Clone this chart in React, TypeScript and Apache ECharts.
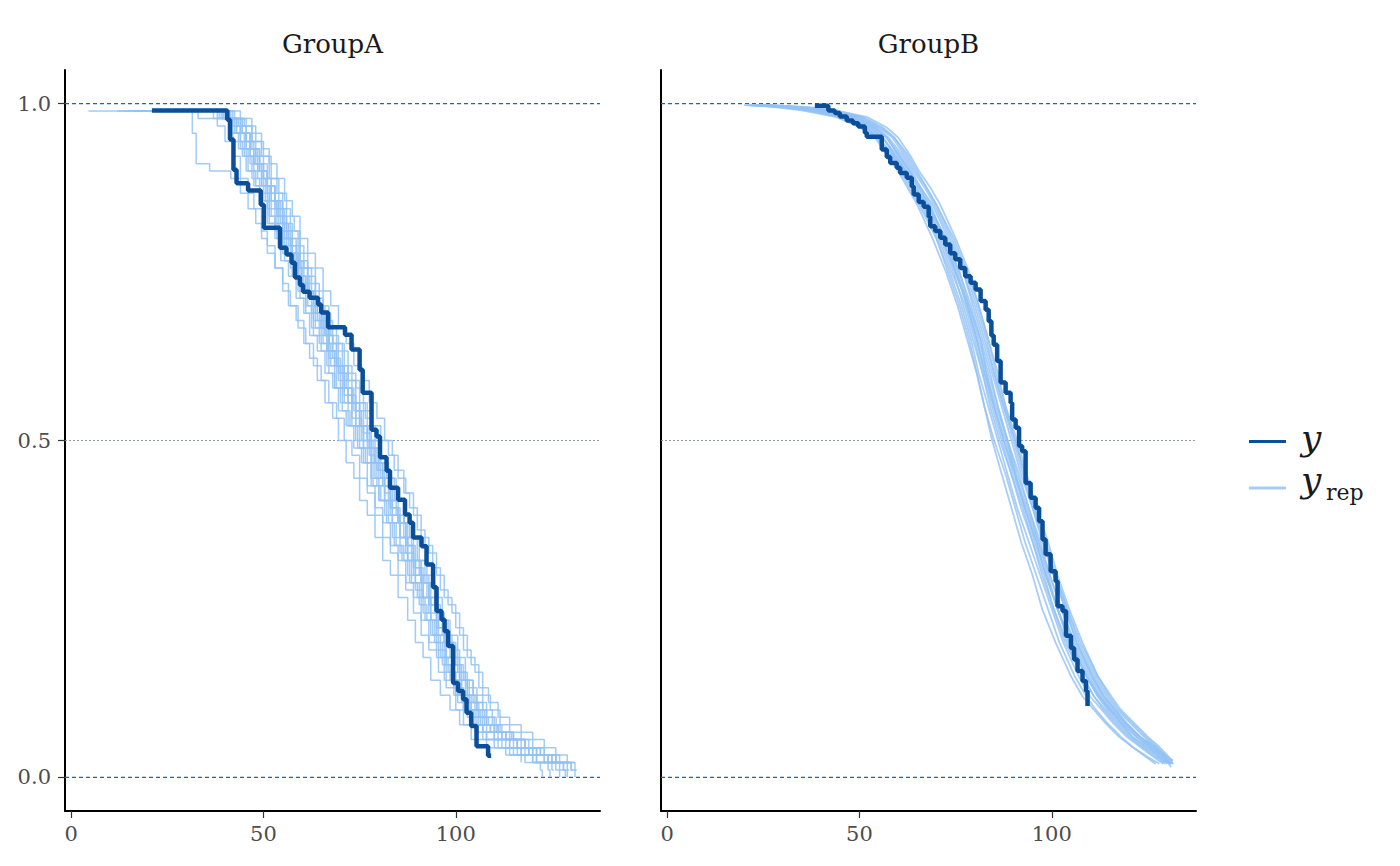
import React, { useEffect, useRef } from "react";
import * as echarts from "echarts";

const panelTitles = ["GroupA", "GroupB"];
const xTicks = [0, 50, 100];
const yTicks = [0, 0.5, 1];
const boundLines = [0, 1];
const midLines = [0.5];
const legendLabels = ["y", "y", "rep"];

// observed Kaplan-Meier curves (time, survival)
const obsGroupA = [
  [21, 0.99], [40.6, 0.976], [41.3, 0.947], [42.2, 0.902], [43, 0.882], [46, 0.871], [49.3, 0.85], [50.1, 0.816],
  [54.3, 0.786], [56, 0.776], [57.3, 0.764], [58.2, 0.742], [59.5, 0.731], [60.3, 0.721], [62, 0.712], [64.2, 0.702],
  [65, 0.69], [66.8, 0.668], [71.2, 0.657], [72.9, 0.635], [75, 0.605], [75.8, 0.571], [78.1, 0.516], [79.4, 0.506],
  [80.3, 0.475], [82, 0.455], [82.9, 0.43], [85, 0.412], [86.8, 0.39], [88, 0.378], [88.9, 0.356], [91.1, 0.343],
  [92.4, 0.316], [94.1, 0.282], [95, 0.247], [96.3, 0.234], [97.1, 0.217], [98, 0.195], [99.3, 0.14], [100.6, 0.128],
  [101.9, 0.116], [102.8, 0.096], [104, 0.076], [105.4, 0.046], [108.4, 0.032], [109.2, 0.032],
];

const obsGroupB = [
  [38.4, 0.997], [41.9, 0.99], [43.6, 0.986], [44.9, 0.981], [46.7, 0.975], [48.3, 0.971], [49.7, 0.966], [51.4, 0.957],
  [51.9, 0.951], [55.8, 0.932], [57.1, 0.921], [58, 0.912], [59.7, 0.905], [60.6, 0.897], [62.3, 0.89], [63.6, 0.877],
  [64.1, 0.865], [65.4, 0.854], [66.7, 0.847], [68, 0.832], [68.4, 0.818], [69.7, 0.811], [71, 0.801], [72.3, 0.791],
  [73.6, 0.778], [74.9, 0.769], [76.2, 0.756], [77.5, 0.744], [78.9, 0.734], [80.2, 0.724], [81.5, 0.707], [82.8, 0.694],
  [83.6, 0.677], [84.3, 0.656], [84.9, 0.642], [85.8, 0.618], [86.7, 0.586], [88, 0.571], [89.3, 0.556], [89.7, 0.531],
  [90.6, 0.519], [91.5, 0.492], [92.3, 0.484], [93.2, 0.437], [94.5, 0.415], [95.8, 0.4], [96.7, 0.38], [97.6, 0.353],
  [98.4, 0.331], [99.7, 0.306], [101, 0.291], [101.5, 0.254], [102.8, 0.247], [103.7, 0.21], [105, 0.192], [105.8, 0.175],
  [106.7, 0.158], [108, 0.143], [108.9, 0.128], [109.3, 0.106],
];

// replicated curves, GroupA
const repA1 = [[16,0.989],[39,0.978],[42.5,0.956],[45,0.922],[47.5,0.9],[49.5,0.878],[51,0.844],[53,0.822],[55,0.789],[57.5,0.767],[59,0.733],[61.5,0.711],[63,0.678],[65,0.656],[67,0.622],[69.5,0.589],[71,0.567],[73,0.533],[75.5,0.5],[77.5,0.478],[79,0.444],[81.5,0.422],[83,0.389],[85.5,0.356],[87,0.333],[89,0.3],[91,0.267],[93.5,0.233],[95,0.2],[97.5,0.167],[99,0.144],[101.5,0.111],[104,0.089],[107,0.067],[110,0.056],[114,0.044],[118,0.033],[123,0.022],[127,0.022]];
const repA2 = [[4.5,0.989],[33,0.978],[38,0.967],[40,0.944],[42,0.922],[44,0.889],[46,0.867],[47.5,0.844],[49.5,0.811],[51,0.789],[53,0.756],[55,0.733],[56.5,0.7],[58.5,0.678],[60.5,0.644],[62,0.622],[64,0.589],[66,0.556],[68,0.533],[69.5,0.5],[71.5,0.467],[73.5,0.444],[75,0.411],[77,0.389],[79,0.356],[81,0.322],[83,0.3],[85,0.267],[87.5,0.233],[89.5,0.2],[91.5,0.178],[93.5,0.144],[96,0.122],[98.5,0.1],[101,0.078],[104,0.056],[108,0.044],[113,0.033],[117,0.022]];
const repA3 = [[22,0.989],[42,0.978],[45,0.967],[47,0.944],[49.5,0.922],[51.5,0.889],[53.5,0.867],[55,0.844],[57,0.811],[59,0.789],[60.5,0.756],[62.5,0.733],[64.5,0.7],[66,0.678],[68,0.644],[70.5,0.611],[72,0.589],[74,0.556],[76.5,0.533],[78,0.5],[80,0.467],[82,0.444],[84,0.411],[86.5,0.378],[88,0.356],[90,0.322],[92,0.289],[94.5,0.256],[96,0.233],[98,0.2],[100,0.167],[102,0.144],[104.5,0.111],[107,0.089],[110,0.067],[113,0.056],[117,0.044],[121,0.033],[126,0.022],[131,0.011],[131.5,0.011]];
const repA4 = [[27,0.989],[31.5,0.956],[32.5,0.911],[36,0.9],[41.5,0.889],[44,0.867],[46,0.844],[48,0.822],[49.5,0.8],[51,0.778],[53,0.756],[55,0.722],[57,0.7],[59,0.667],[61,0.644],[63,0.611],[65,0.589],[67,0.556],[69,0.533],[71,0.5],[73,0.478],[75,0.444],[77,0.422],[79,0.389],[81,0.356],[83,0.333],[85,0.3],[87,0.278],[89,0.244],[91,0.211],[93,0.189],[95.5,0.156],[97.5,0.133],[100,0.1],[102,0.078],[105,0.067],[108,0.056],[112,0.044],[116,0.033],[120,0.022],[124,0.011],[124.5,0.0]];
const repA5 = [[18,0.989],[40.5,0.978],[43,0.956],[45.5,0.933],[48,0.911],[50,0.878],[52,0.856],[53.5,0.822],[55.5,0.8],[57.5,0.778],[59,0.744],[61,0.722],[63,0.689],[65,0.667],[66.5,0.633],[68.5,0.611],[70.5,0.578],[72,0.556],[74,0.522],[76,0.5],[78,0.467],[80,0.444],[81.5,0.411],[83.5,0.389],[85.5,0.356],[87.5,0.322],[89.5,0.3],[91.5,0.267],[93,0.244],[95,0.211],[97,0.178],[99,0.156],[101,0.122],[103.5,0.1],[106,0.078],[109,0.067],[112,0.056],[116,0.044],[119,0.033],[124,0.022],[129,0.011],[129.5,0.011]];
const repA6 = [[24,0.989],[41,0.978],[44,0.956],[46.5,0.933],[48.5,0.9],[51,0.878],[53,0.856],[55,0.822],[57.5,0.8],[59.5,0.767],[61.5,0.744],[63.5,0.711],[65.5,0.689],[67.5,0.656],[69.5,0.633],[72,0.6],[74,0.578],[76,0.544],[78,0.522],[80.5,0.5],[82.5,0.478],[84,0.456],[86.5,0.422],[88,0.4],[90,0.367],[92,0.344],[94,0.311],[96,0.278],[98,0.256],[100,0.222],[102,0.189],[104,0.167],[106,0.133],[108.5,0.111],[111,0.089],[114,0.078],[117,0.067],[120,0.056],[123,0.044],[126,0.033],[129,0.022],[130,0.022]];
const repA7 = [[30,0.989],[44,0.978],[47,0.956],[49.5,0.933],[51.5,0.911],[53.5,0.889],[55.5,0.856],[57.5,0.833],[59.5,0.8],[61.5,0.778],[63.5,0.756],[65.5,0.722],[67.5,0.7],[69.5,0.667],[71.5,0.644],[73.5,0.611],[75.5,0.589],[77.5,0.556],[79.5,0.533],[81.5,0.5],[83.5,0.478],[85,0.444],[87,0.422],[89,0.389],[91,0.356],[93,0.333],[95,0.3],[97,0.267],[99,0.244],[101,0.211],[103,0.178],[105,0.156],[107,0.122],[109,0.1],[111.5,0.078],[114,0.067],[117,0.056],[120,0.044],[123,0.033],[126,0.022],[130,0.011],[131,0.0]];
const repA8 = [[20,0.989],[38.5,0.978],[42,0.967],[44,0.944],[46.5,0.911],[48.5,0.889],[50.5,0.856],[52,0.833],[54,0.811],[56,0.778],[58,0.756],[60,0.722],[61.5,0.7],[63.5,0.667],[65.5,0.644],[67.5,0.611],[69,0.578],[71,0.556],[73,0.522],[75,0.489],[77,0.467],[78.5,0.433],[80.5,0.411],[82.5,0.378],[84.5,0.344],[86.5,0.322],[88.5,0.289],[90.5,0.256],[92.5,0.233],[94.5,0.2],[96.5,0.167],[98.5,0.144],[100.5,0.111],[103,0.089],[105.5,0.067],[108,0.056],[111,0.044],[115,0.033],[120,0.022],[125,0.011],[125.5,0.011]];
const repA9 = [[14,0.989],[37,0.978],[41,0.956],[43.5,0.933],[45.5,0.9],[47.5,0.878],[49,0.856],[51,0.822],[53,0.8],[54.5,0.767],[56.5,0.744],[58.5,0.711],[60.5,0.689],[62,0.656],[64,0.633],[66,0.6],[68,0.578],[69.5,0.544],[71.5,0.522],[73.5,0.489],[75.5,0.467],[77,0.433],[79,0.4],[81,0.378],[83,0.344],[85,0.322],[87,0.289],[89,0.267],[91,0.233],[93,0.2],[95,0.178],[97,0.144],[99.5,0.122],[102,0.1],[104.5,0.078],[107,0.056],[110,0.044],[114,0.033],[118,0.022],[122,0.011],[122.5,0.0]];
const repA10 = [[25,0.989],[41,0.978],[44,0.956],[46.5,0.922],[49,0.9],[51,0.867],[53,0.844],[55.5,0.811],[57,0.789],[59,0.756],[61.5,0.722],[63,0.7],[65.5,0.667],[67,0.644],[69,0.611],[71,0.578],[73,0.556],[75,0.522],[77,0.489],[79,0.467],[81,0.433],[83,0.4],[85,0.378],[87,0.344],[89,0.311],[91,0.289],[93,0.256],[95,0.222],[97,0.2],[99,0.167],[101,0.144],[103,0.111],[105.5,0.089],[108,0.078],[111,0.067],[114,0.056],[118,0.044],[121,0.033],[125,0.022],[128,0.011],[128.5,0.011]];
const repA11 = [[19,0.989],[40,0.978],[43,0.967],[45.5,0.944],[47.5,0.911],[50,0.889],[52,0.856],[54,0.833],[56,0.8],[57.5,0.778],[59.5,0.744],[61.5,0.722],[63.5,0.689],[65.5,0.667],[67,0.633],[69,0.611],[71,0.578],[73,0.556],[75,0.522],[77,0.5],[79,0.467],[81,0.444],[83,0.411],[85,0.378],[87,0.356],[89,0.322],[91,0.3],[93,0.267],[95,0.244],[97,0.211],[99,0.189],[101,0.156],[103,0.133],[105.5,0.111],[108,0.089],[110.5,0.067],[113,0.056],[116,0.044],[120,0.033],[124,0.022],[126,0.022]];
const repA12 = [[23,0.989],[41.5,0.978],[44.5,0.956],[47,0.933],[49,0.911],[51,0.878],[53,0.856],[54.5,0.822],[56.5,0.8],[58.5,0.767],[60,0.744],[62,0.711],[64,0.689],[66,0.656],[68,0.633],[69.5,0.6],[71.5,0.578],[73.5,0.544],[75.5,0.522],[77.5,0.489],[79.5,0.456],[81,0.433],[83,0.4],[85,0.378],[87,0.344],[89,0.322],[91,0.289],[93,0.256],[95,0.233],[97,0.2],[99,0.178],[101,0.144],[103,0.122],[105.5,0.1],[108,0.078],[111,0.067],[115,0.056],[119,0.044],[123,0.033],[127,0.022],[131,0.022]];
const repA13 = [[26,0.989],[39.5,0.978],[42,0.944],[44.5,0.922],[47,0.889],[49,0.867],[51.5,0.833],[53,0.811],[55,0.778],[57,0.756],[59,0.722],[61,0.7],[62.5,0.667],[64.5,0.644],[66.5,0.611],[68.5,0.578],[70,0.556],[72,0.522],[74,0.5],[76,0.467],[78,0.444],[80,0.411],[81.5,0.389],[83.5,0.356],[85.5,0.333],[87.5,0.3],[89.5,0.278],[91.5,0.244],[93.5,0.211],[95.5,0.189],[97.5,0.156],[99.5,0.133],[102,0.1],[104.5,0.078],[107,0.067],[110,0.056],[113,0.044],[117,0.033],[121,0.022],[126,0.011],[127,0.0]];
const repA14 = [[28,0.989],[42.5,0.978],[45.5,0.967],[48,0.944],[50,0.922],[52,0.889],[54,0.867],[56,0.833],[58,0.811],[59.5,0.778],[61.5,0.756],[63.5,0.722],[65.5,0.7],[67,0.667],[69,0.644],[71,0.611],[73,0.589],[75,0.556],[77,0.522],[79,0.5],[80.5,0.467],[82.5,0.444],[84.5,0.411],[86.5,0.378],[88.5,0.356],[90.5,0.322],[92.5,0.3],[94.5,0.267],[96.5,0.233],[98.5,0.211],[100.5,0.178],[102.5,0.144],[104.5,0.122],[107,0.1],[109.5,0.078],[112,0.067],[115,0.056],[118,0.044],[122,0.033],[125,0.022],[129,0.022]];
const repA15 = [[17,0.989],[39.5,0.978],[43,0.956],[45.5,0.933],[47.5,0.911],[49.5,0.878],[51.5,0.856],[53.5,0.833],[55,0.8],[57,0.778],[59,0.744],[61,0.722],[62.5,0.689],[64.5,0.667],[66.5,0.633],[68.5,0.611],[70,0.578],[72,0.556],[74,0.522],[76,0.489],[78,0.467],[79.5,0.433],[81.5,0.411],[83.5,0.378],[85.5,0.356],[87.5,0.322],[89.5,0.289],[91.5,0.267],[93.5,0.233],[95.5,0.211],[97.5,0.178],[99.5,0.144],[101.5,0.122],[104,0.1],[106.5,0.078],[109,0.067],[112,0.056],[115,0.044],[119,0.033],[123,0.022],[128,0.011],[128.5,0.0]];
const repA16 = [[21,0.989],[41,0.978],[44.5,0.956],[46.5,0.933],[49,0.9],[51,0.878],[53,0.844],[55,0.822],[56.5,0.789],[58.5,0.767],[60.5,0.733],[62.5,0.711],[64,0.678],[66,0.656],[68,0.622],[70,0.6],[72,0.567],[74,0.544],[76,0.511],[78,0.489],[80,0.456],[81.5,0.433],[83.5,0.4],[85.5,0.378],[87.5,0.344],[89.5,0.311],[91.5,0.289],[93.5,0.256],[95.5,0.222],[97.5,0.2],[99.5,0.167],[101.5,0.144],[103.5,0.111],[106,0.089],[108.5,0.078],[111.5,0.067],[114.5,0.056],[118,0.044],[122,0.033],[126,0.022],[130,0.011],[130.5,0.011]];
const repA17 = [[29,0.989],[38,0.978],[41.5,0.956],[44,0.933],[46,0.9],[48,0.878],[50,0.856],[51.5,0.822],[53.5,0.8],[55.5,0.767],[57.5,0.744],[59.5,0.711],[61,0.689],[63,0.656],[65,0.633],[67,0.6],[68.5,0.578],[70.5,0.544],[72.5,0.522],[74.5,0.489],[76.5,0.467],[78,0.433],[80,0.411],[82,0.378],[84,0.344],[86,0.322],[88,0.289],[90,0.267],[92,0.233],[94,0.211],[96,0.178],[98,0.156],[100,0.122],[102.5,0.1],[105,0.078],[108,0.067],[111,0.056],[114,0.044],[117,0.033],[121,0.022],[124,0.022]];
const repA18 = [[12,0.989],[40,0.978],[43.5,0.967],[45.5,0.944],[48,0.922],[50,0.889],[52,0.867],[54,0.833],[56,0.811],[57.5,0.778],[59.5,0.756],[61.5,0.722],[63.5,0.7],[65,0.667],[67,0.644],[69,0.611],[71,0.589],[73,0.556],[75,0.522],[77,0.5],[78.5,0.467],[80.5,0.444],[82.5,0.411],[84.5,0.389],[86.5,0.356],[88.5,0.322],[90.5,0.3],[92.5,0.267],[94.5,0.244],[96.5,0.211],[98.5,0.178],[100.5,0.156],[102.5,0.122],[105,0.1],[107.5,0.078],[110,0.067],[113,0.056],[116,0.044],[120,0.033],[124,0.022],[127,0.011],[129,0.0]];

// replicated curves, GroupB
const repB1 = [[23,0.998],[32,0.995],[39,0.99],[47.5,0.98],[53,0.965],[56,0.95],[59.5,0.925],[62,0.9],[65,0.875],[67.5,0.85],[72.5,0.8],[75,0.75],[78.5,0.7],[81.5,0.65],[83,0.6],[85.5,0.55],[88.5,0.5],[90.5,0.45],[93.5,0.4],[96.5,0.35],[99,0.3],[101.5,0.25],[105,0.2],[109,0.15],[112.5,0.12],[115.5,0.1],[118,0.08],[121,0.06],[125,0.045],[128,0.03],[130.5,0.02]];
const repB2 = [[22,0.998],[30,0.995],[37,0.99],[45,0.98],[50.5,0.965],[54,0.95],[57,0.925],[60,0.9],[62.5,0.875],[65,0.85],[69,0.8],[72.5,0.75],[75.5,0.7],[78,0.65],[80.5,0.6],[82.5,0.55],[85,0.5],[88,0.45],[90.5,0.4],[93,0.35],[96,0.3],[99,0.25],[102,0.2],[106,0.15],[109,0.12],[111.5,0.1],[114.5,0.08],[118,0.06],[121,0.045],[125,0.03],[128,0.02]];
const repB3 = [[26,0.998],[35,0.995],[42,0.99],[50.5,0.98],[55.5,0.965],[59,0.95],[62.5,0.925],[65,0.9],[67.5,0.875],[70,0.85],[74.5,0.8],[78,0.75],[81,0.7],[83.5,0.65],[86,0.6],[88,0.55],[91,0.5],[93.5,0.45],[96,0.4],[99,0.35],[101.5,0.3],[104.5,0.25],[108,0.2],[112,0.15],[115.5,0.12],[118,0.1],[121.5,0.08],[125,0.06],[128,0.045],[130.5,0.03],[131.5,0.02]];
const repB4 = [[20,0.998],[28,0.995],[35,0.99],[44,0.98],[50,0.965],[54.5,0.95],[58.5,0.925],[61,0.9],[64,0.875],[66.5,0.85],[71,0.8],[74.5,0.75],[77,0.7],[79.5,0.65],[82,0.6],[84,0.55],[86.5,0.5],[89.5,0.45],[92,0.4],[95,0.35],[97.5,0.3],[100.5,0.25],[103.5,0.2],[108,0.15],[111,0.12],[113.5,0.1],[116.5,0.08],[120,0.06],[123.5,0.045],[127,0.03],[129.5,0.02]];
const repB5 = [[25,0.998],[34,0.995],[41,0.99],[49,0.98],[54.5,0.965],[57.5,0.95],[61,0.925],[63.5,0.9],[66,0.875],[69,0.85],[73,0.8],[77,0.75],[79.5,0.7],[82,0.65],[84.5,0.6],[87,0.55],[89.5,0.5],[92,0.45],[95,0.4],[97.5,0.35],[100.5,0.3],[103.5,0.25],[106.5,0.2],[111,0.15],[114,0.12],[116.5,0.1],[119.5,0.08],[123,0.06],[126.5,0.045],[129.5,0.03],[131.5,0.02]];
const repB6 = [[24,0.998],[31,0.995],[38,0.99],[46,0.98],[51.5,0.965],[55,0.95],[58,0.925],[61,0.9],[63.5,0.875],[66,0.85],[70,0.8],[73,0.75],[76,0.7],[78.5,0.65],[80.5,0.6],[82.5,0.55],[84.5,0.5],[87,0.45],[89.5,0.4],[92,0.35],[95,0.3],[97.5,0.25],[101,0.2],[105,0.15],[108,0.12],[111,0.1],[114,0.08],[117.5,0.06],[121,0.045],[124.5,0.03],[127,0.02]];
const repB7 = [[27,0.998],[37,0.995],[44,0.99],[52,0.98],[57,0.965],[60,0.95],[63,0.925],[65.5,0.9],[68.5,0.875],[71,0.85],[75,0.8],[78.5,0.75],[81,0.7],[83.5,0.65],[85.5,0.6],[88,0.55],[90.5,0.5],[93,0.45],[95.5,0.4],[98.5,0.35],[101,0.3],[104,0.25],[107.5,0.2],[112,0.15],[115,0.12],[117.5,0.1],[121,0.08],[124.5,0.06],[127.5,0.045],[130,0.03],[131.5,0.025]];
const repB8 = [[23.5,0.998],[33,0.995],[40.5,0.99],[48.5,0.98],[53.5,0.965],[57,0.95],[60,0.925],[63,0.9],[66,0.875],[68.5,0.85],[72,0.8],[75.5,0.75],[78,0.7],[80.5,0.65],[82.5,0.6],[85,0.55],[87.5,0.5],[90.5,0.45],[93,0.4],[96,0.35],[98.5,0.3],[101.5,0.25],[104.5,0.2],[109,0.15],[112,0.12],[115,0.1],[118.5,0.08],[122,0.06],[125.5,0.045],[129,0.03],[131,0.02]];
const repB9 = [[21,0.998],[29.5,0.995],[36.5,0.99],[46,0.98],[51.5,0.965],[55,0.95],[58.5,0.925],[61.5,0.9],[64,0.875],[66.5,0.85],[70.5,0.8],[74,0.75],[77.5,0.7],[80,0.65],[82,0.6],[84.5,0.55],[87,0.5],[89.5,0.45],[92.5,0.4],[95,0.35],[98,0.3],[100.5,0.25],[104,0.2],[108,0.15],[111,0.12],[114,0.1],[117,0.08],[120.5,0.06],[124,0.045],[127.5,0.03],[130,0.02]];
const repB10 = [[24.5,0.998],[34.5,0.995],[42.5,0.99],[50,0.98],[55,0.965],[58.5,0.95],[61.5,0.925],[64,0.9],[67,0.875],[69.5,0.85],[73.5,0.8],[77,0.75],[80,0.7],[82.5,0.65],[85,0.6],[87.5,0.55],[90,0.5],[92.5,0.45],[95,0.4],[98,0.35],[100.5,0.3],[103.5,0.25],[106.5,0.2],[110.5,0.15],[113.5,0.12],[116.5,0.1],[119.5,0.08],[123,0.06],[127,0.045],[130,0.03],[131.5,0.02]];
const repB11 = [[22.5,0.998],[31,0.995],[38,0.99],[47,0.98],[52,0.965],[56,0.95],[59,0.925],[62,0.9],[64.5,0.875],[67,0.85],[71.5,0.8],[75,0.75],[78,0.7],[80.5,0.65],[82.5,0.6],[85,0.55],[87.5,0.5],[90,0.45],[93,0.4],[95.5,0.35],[98.5,0.3],[101.5,0.25],[104.5,0.2],[109,0.15],[112,0.12],[114.5,0.1],[117.5,0.08],[121,0.06],[124.5,0.045],[128,0.03],[130.5,0.02]];
const repB12 = [[25.5,0.998],[33.5,0.995],[41,0.99],[49.5,0.98],[54,0.965],[57,0.95],[60.5,0.925],[63,0.9],[65.5,0.875],[68,0.85],[72.5,0.8],[76,0.75],[79,0.7],[81.5,0.65],[84,0.6],[86,0.55],[88.5,0.5],[91.5,0.45],[94,0.4],[97,0.35],[99.5,0.3],[102.5,0.25],[106,0.2],[110.5,0.15],[113.5,0.12],[116,0.1],[119,0.08],[123,0.06],[126,0.045],[129.5,0.03],[131,0.015]];
const repB13 = [[23,0.998],[31.5,0.995],[39.5,0.99],[47,0.98],[52.5,0.965],[56,0.95],[59,0.925],[62,0.9],[64.5,0.875],[67.5,0.85],[71.5,0.8],[75,0.75],[78,0.7],[80.5,0.65],[83,0.6],[85,0.55],[88,0.5],[90.5,0.45],[93,0.4],[96,0.35],[98.5,0.3],[101.5,0.25],[105,0.2],[109.5,0.15],[112.5,0.12],[115,0.1],[118,0.08],[122,0.06],[125.5,0.045],[128.5,0.03],[131,0.02]];
const repB14 = [[26.5,0.998],[35.5,0.995],[43,0.99],[51,0.98],[56,0.965],[59,0.95],[62,0.925],[64.5,0.9],[67.5,0.875],[70,0.85],[74,0.8],[77.5,0.75],[80.5,0.7],[83,0.65],[85,0.6],[87.5,0.55],[90.5,0.5],[93,0.45],[95.5,0.4],[98,0.35],[101,0.3],[104,0.25],[107,0.2],[111.5,0.15],[114.5,0.12],[117,0.1],[120.5,0.08],[124,0.06],[127,0.045],[130,0.03],[131.5,0.025]];
const repB15 = [[21.5,0.998],[30.5,0.995],[37.5,0.99],[45.5,0.98],[51,0.965],[54.5,0.95],[57.5,0.925],[60.5,0.9],[63,0.875],[65.5,0.85],[70,0.8],[73.5,0.75],[76.5,0.7],[79,0.65],[81,0.6],[83.5,0.55],[86,0.5],[88.5,0.45],[91,0.4],[94,0.35],[97,0.3],[100,0.25],[103,0.2],[107,0.15],[110,0.12],[113,0.1],[116,0.08],[119.5,0.06],[123,0.045],[126.5,0.03],[129,0.02]];
const repB16 = [[24,0.998],[33.5,0.995],[40,0.99],[48,0.98],[53.5,0.965],[57,0.95],[60,0.925],[62.5,0.9],[65.5,0.875],[68,0.85],[72,0.8],[76,0.75],[78.5,0.7],[81,0.65],[83.5,0.6],[86,0.55],[88.5,0.5],[91,0.45],[94,0.4],[96.5,0.35],[99.5,0.3],[102.5,0.25],[105.5,0.2],[110,0.15],[113,0.12],[115.5,0.1],[119,0.08],[122.5,0.06],[126,0.045],[129,0.03],[131,0.02]];

const repsGroupA = [repA1, repA2, repA3, repA4, repA5, repA6, repA7, repA8, repA9, repA10, repA11, repA12, repA13, repA14, repA15, repA16, repA17, repA18];
const repsGroupB = [repB1, repB2, repB3, repB4, repB5, repB6, repB7, repB8, repB9, repB10, repB11, repB12, repB13, repB14, repB15, repB16];

const DARK = "#0b4f9b";
const LIGHT = "#92c2f5";
const REFBLUE = "#1f63b3";
const X_MIN = -1.6;
const X_MAX = 137.5;
const FONT = '"DejaVu Serif", serif';

export default function App() {
  const ref = useRef<HTMLDivElement>(null);

  useEffect(() => {
    document.body.style.margin = "0";
    const chart = echarts.init(ref.current as HTMLDivElement, null, { renderer: "svg" });

    const grids = [
      { left: 65, top: 70, width: 535, height: 741 },
      { left: 661, top: 70, width: 535, height: 741 },
    ];

    const xAxis = grids.map((_, i) => ({
      type: "value",
      gridIndex: i,
      min: X_MIN,
      max: X_MAX,
      axisLine: { show: true, onZero: false, lineStyle: { color: "#000", width: 2 } },
      axisTick: { show: true, length: 7, customValues: xTicks, lineStyle: { color: "#333", width: 1.2 } },
      axisLabel: { customValues: xTicks, color: "#4d4d4d", fontFamily: FONT, fontSize: 21, margin: 12 },
      splitLine: { show: false },
    }));

    const yAxis = grids.map((_, i) => ({
      type: "value",
      gridIndex: i,
      min: -0.05,
      max: 1.05,
      axisLine: { show: true, onZero: false, lineStyle: { color: "#000", width: 2 } },
      axisTick: { show: i === 0, length: 7, customValues: yTicks, lineStyle: { color: "#333", width: 1.2 } },
      axisLabel: {
        show: i === 0,
        customValues: yTicks,
        formatter: (v: number) => v.toFixed(1),
        color: "#4d4d4d",
        fontFamily: FONT,
        fontSize: 21,
        margin: 14,
      },
      splitLine: { show: false },
    }));

    const hLineSeries = (values: number[], idx: number, color: string, width: number, dash: number[]) =>
      values.map((v) => ({
        type: "line",
        xAxisIndex: idx,
        yAxisIndex: idx,
        data: [
          [X_MIN, v],
          [X_MAX, v],
        ],
        showSymbol: false,
        symbol: "none",
        silent: true,
        z: 1,
        lineStyle: { color, width, type: dash },
      }));

    const repSeries = (reps: number[][][], idx: number, stepped: boolean) =>
      reps.map((d) => ({
        type: "line",
        name: "y_rep",
        xAxisIndex: idx,
        yAxisIndex: idx,
        data: d,
        step: stepped ? "end" : false,
        showSymbol: false,
        symbol: "none",
        silent: true,
        z: 2,
        lineStyle: { color: LIGHT, width: stepped ? 1.5 : 1.8, opacity: stepped ? 0.85 : 0.8 },
      }));

    const obsSeries = (d: number[][], idx: number) => ({
      type: "line",
      name: "y",
      xAxisIndex: idx,
      yAxisIndex: idx,
      data: d,
      step: "end",
      showSymbol: false,
      symbol: "none",
      silent: true,
      z: 4,
      lineStyle: { color: DARK, width: 4.5 },
    });

    const graphic: any[] = [
      {
        type: "text",
        x: 332.5,
        y: 44,
        style: { text: panelTitles[0], font: `26px ${FONT}`, fill: "#1a1a1a", textAlign: "center", textVerticalAlign: "middle" },
      },
      {
        type: "text",
        x: 928.5,
        y: 44,
        style: { text: panelTitles[1], font: `26px ${FONT}`, fill: "#1a1a1a", textAlign: "center", textVerticalAlign: "middle" },
      },
      { type: "line", shape: { x1: 1249, y1: 441.5, x2: 1286, y2: 441.5 }, style: { stroke: DARK, lineWidth: 3 } },
      { type: "line", shape: { x1: 1249, y1: 488, x2: 1286, y2: 488 }, style: { stroke: "#a6cdf8", lineWidth: 3 } },
      {
        type: "text",
        x: 1301,
        y: 437,
        style: { text: legendLabels[0], font: `italic 36px ${FONT}`, fill: "#1a1a1a", textAlign: "left", textVerticalAlign: "middle" },
      },
      {
        type: "text",
        x: 1301,
        y: 479,
        style: { text: legendLabels[1], font: `italic 36px ${FONT}`, fill: "#1a1a1a", textAlign: "left", textVerticalAlign: "middle" },
      },
      {
        type: "text",
        x: 1326,
        y: 492,
        style: { text: legendLabels[2], font: `22px ${FONT}`, fill: "#1a1a1a", textAlign: "left", textVerticalAlign: "middle" },
      },
    ];

    chart.setOption({
      animation: false,
      backgroundColor: "#ffffff",
      grid: grids,
      xAxis,
      yAxis,
      series: [
        ...hLineSeries(boundLines, 0, REFBLUE, 1.2, [4, 3]),
        ...hLineSeries(boundLines, 1, REFBLUE, 1.2, [4, 3]),
        ...hLineSeries(midLines, 0, "#8790a0", 0.9, [2, 2]),
        ...hLineSeries(midLines, 1, "#8790a0", 0.9, [2, 2]),
        ...repSeries(repsGroupA, 0, true),
        ...repSeries(repsGroupB, 1, false),
        obsSeries(obsGroupA, 0),
        obsSeries(obsGroupB, 1),
      ],
      graphic,
    } as any);

    return () => chart.dispose();
  }, []);

  return <div ref={ref} style={{ position: "fixed", left: 0, top: 0, width: 1400, height: 866 }} />;
}
